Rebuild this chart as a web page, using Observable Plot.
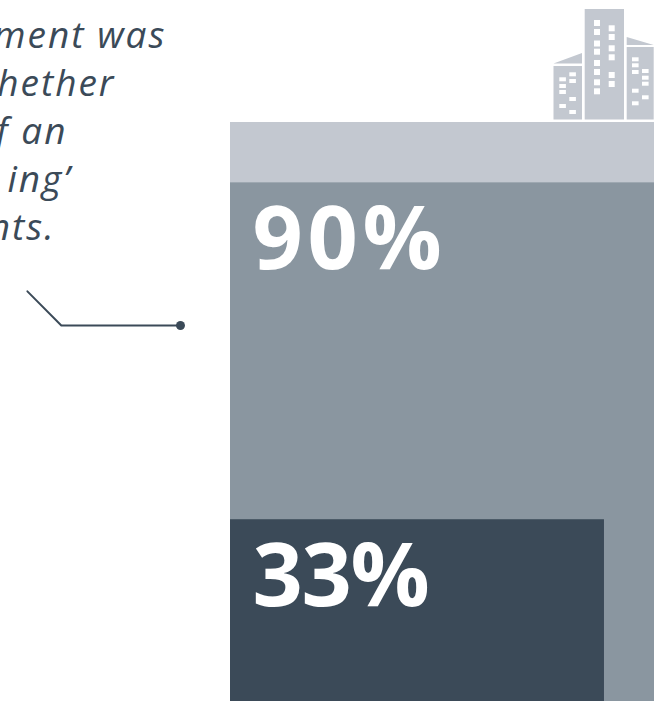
<!DOCTYPE html>
<html>
<head>
<meta charset="utf-8">
<script src="https://cdn.jsdelivr.net/npm/d3@7"></script>
<script src="https://cdn.jsdelivr.net/npm/@observablehq/plot@0.6"></script>
<style>
  html, body { margin: 0; padding: 0; background: #fff; overflow: hidden; }
  svg { display: block; }
  .big-wide text { letter-spacing: 4.7px; }
  .big-tight text { letter-spacing: -1.3px; }
  .note-line text { letter-spacing: 2px; }
</style>
</head>
<body>
<div id="chart"></div>
<script>
// Nested share blocks, largest first
const blockNames = ["all", "outer", "inner"];
const blockValues = [100, 90, 33];
const blockWidths = [100, 100, 88.2];
const blockColors = ["#c3c8d0", "#8a96a0", "#3b4a58"];
const labelledValues = [90, 33];
const labelClasses = ["big-wide", "big-tight"];

// Visible part of the note beside the blocks
const noteLines = ["ment was", "hether", "f an", "ing’", "nts."];
const noteLineEnds = [166, 115, 67, 71, 55];

// Leader line under the note, in scale units
const leaderX = [-47.9, -39.9, -11.8];
const leaderY = [71.9, 66.15, 66.15];

const ink = "#3b4a58";
const sans = "'Open Sans', sans-serif";

// Skyline pictogram that sits on top of the full block
function skyline() {
  const g = d3.create("svg:g").attr("fill", "#c3c8d0");
  g.append("path").attr("d",
    "M553.5 66H582V119.5H553.5Z M553.5 63.5L582 53V63.5Z " +
    "M584.7 9H624V119.5H584.7Z " +
    "M626.7 47H653.7V119.5H626.7Z M626.7 37L653.7 45H626.7Z");
  const tall = [
    [594, 20], [594, 29], [594, 40.5], [594, 48.7], [594, 60], [594, 69], [594, 79.3], [594, 88.3],
    [608.7, 25.3], [608.7, 34], [608.7, 45.3], [608.7, 54.3], [608.7, 72], [608.7, 81]
  ];
  const small = [
    [569.3, 72.3], [569.3, 79], [559.3, 77.3], [559.3, 84], [559.3, 90],
    [569.3, 97], [559.3, 104], [569.3, 110],
    [632, 57.3], [632, 63.3], [632, 70], [642, 69], [642, 75.7], [642, 81.7],
    [632, 88.7], [642, 95.3], [632, 101.3]
  ];
  g.append("g").attr("fill", "#fff").selectAll("rect").data(tall).join("rect")
    .attr("x", d => d[0]).attr("y", d => d[1]).attr("width", 6).attr("height", 6);
  g.append("g").attr("fill", "#fff").selectAll("rect").data(small).join("rect")
    .attr("x", d => d[0]).attr("y", d => d[1]).attr("width", 6.6).attr("height", 4);
  return g.node();
}

const blocks = blockNames.map((name, i) => ({
  name, value: blockValues[i], width: blockWidths[i], color: blockColors[i]
}));

const chart = Plot.plot({
  width: 671,
  height: 701,
  marginTop: 122,
  marginRight: 17,
  marginBottom: 0,
  marginLeft: 230,
  style: { background: "#fff", overflow: "hidden" },
  x: { domain: [0, 100], axis: null },
  y: { type: "pow", exponent: 1.045, domain: [0, 100], axis: null },
  marks: [
    Plot.rect(blocks, {
      x1: 0, x2: "width", y1: 0, y2: "value",
      fill: "color", inset: 0
    }),
    ...labelledValues.map((value, i) =>
      Plot.text([value], {
        x: 5.2, y: d => d, text: d => `${d}%`,
        textAnchor: "start", dy: 58, className: labelClasses[i],
        fontFamily: sans, fontWeight: 700, fontSize: 88, fill: "#fff"
      })
    ),
    Plot.line(leaderX.map((x, i) => [x, leaderY[i]]), {
      x: d => d[0], y: d => d[1], stroke: ink, strokeWidth: 2, curve: "linear"
    }),
    Plot.dot([[leaderX[2], leaderY[2]]], {
      x: d => d[0], y: d => d[1], r: 4.5, fill: ink
    }),
    ...noteLines.map((line, i) =>
      Plot.text([line], {
        frameAnchor: "top-left",
        text: d => d,
        textAnchor: "end",
        lineAnchor: "bottom",
        dx: noteLineEnds[i] - 230,
        dy: 47 + i * 48 - 122,
        className: "note-line",
        fontFamily: sans, fontStyle: "italic", fontSize: 37, fill: ink
      })
    ),
    skyline
  ]
});

document.getElementById("chart").appendChild(chart);
</script>
</body>
</html>
